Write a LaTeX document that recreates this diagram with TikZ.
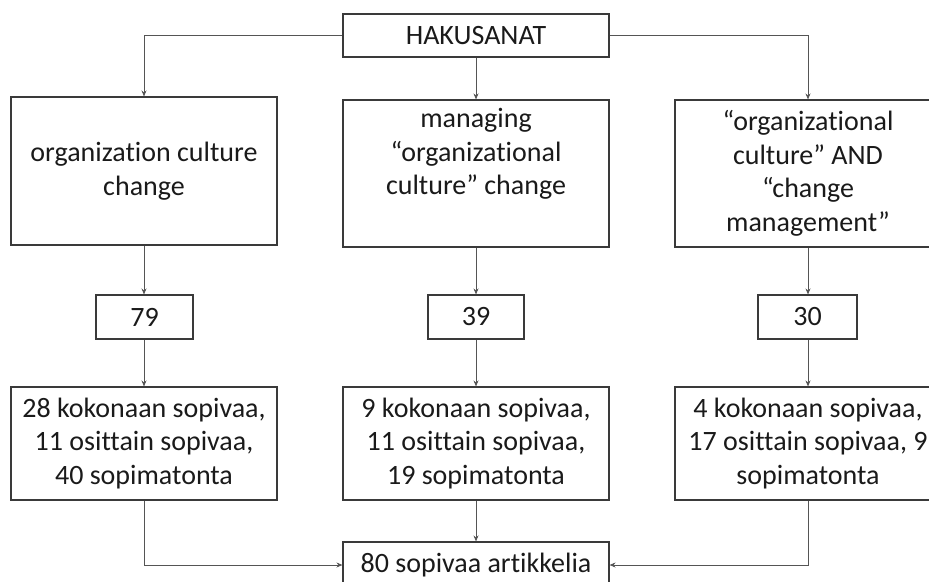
\documentclass[tikz,border=0pt]{standalone}
\usepackage{fontspec}
\setmainfont{Carlito}[Ligatures={NoCommon,NoContextual}]
\usetikzlibrary{arrows.meta}
\definecolor{boxline}{HTML}{3A3A3A}
\definecolor{conn}{HTML}{555555}
\definecolor{txt}{HTML}{1A1A1A}
\tikzset{
  box/.style={draw=boxline, line width=1.1pt, inner sep=0pt, align=center,
    text=txt, font=\fontsize{28}{33.5}\selectfont, minimum width=266pt},
  numbox/.style={box, minimum height=44pt},
  conarrow/.style={draw=conn, line width=0.9pt, -{Stealth[length=6pt,width=5pt]}}
}
\begin{document}
\begin{tikzpicture}[x=1pt,y=-1pt]
\useasboundingbox (0,0) rectangle (929,581);
\clip (0,0) rectangle (929,581);
\node[box, minimum height=43pt] (hak) at (476,35.5) {HAKUSANAT};
\node[box, minimum height=148pt] (tl) at (144,171) {organization culture\\change};
\node[box, minimum height=147pt] (tm) at (476,173.5) {managing\\“organizational\\culture” change\\\strut};
\node[box, minimum height=147pt] (tr) at (808,173.5) {“organizational\\culture” AND\\“change\\management”};
\node[numbox, minimum width=97pt] (n1) at (144.5,317) {79};
\node[numbox, minimum width=96pt] (n2) at (476,317) {39};
\node[numbox, minimum width=99pt] (n3) at (807.5,317) {30};
\node[box, minimum height=113pt] (bl) at (144,443.5) {28 kokonaan sopivaa,\\11 osittain sopivaa,\\40 sopimatonta};
\node[box, minimum height=113pt] (bm) at (476,443.5) {9 kokonaan sopivaa,\\11 osittain sopivaa,\\19 sopimatonta};
\node[box, minimum height=113pt] (br) at (808,443.5) {4 kokonaan sopivaa,\\17 osittain sopivaa, 9\\sopimatonta};
\node[box, minimum height=46pt] (fin) at (476,565) {80 sopivaa artikkelia};
\draw[conarrow] (hak.west) -| (tl.north);
\draw[conarrow] (hak.south) -- (tm.north);
\draw[conarrow] (hak.east) -| (tr.north);
\draw[conarrow] (tl.south) -- (tl.south |- n1.north);
\draw[conarrow] (tm.south) -- (n2.north);
\draw[conarrow] (tr.south) -- (tr.south |- n3.north);
\draw[conarrow] (n1.south -| tl.south) -- (bl.north);
\draw[conarrow] (n2.south) -- (bm.north);
\draw[conarrow] (n3.south -| tr.south) -- (br.north);
\draw[conarrow] (bl.south) |- (fin.west);
\draw[conarrow] (bm.south) -- (fin.north);
\draw[conarrow] (br.south) |- (fin.east);
\end{tikzpicture}
\end{document}
